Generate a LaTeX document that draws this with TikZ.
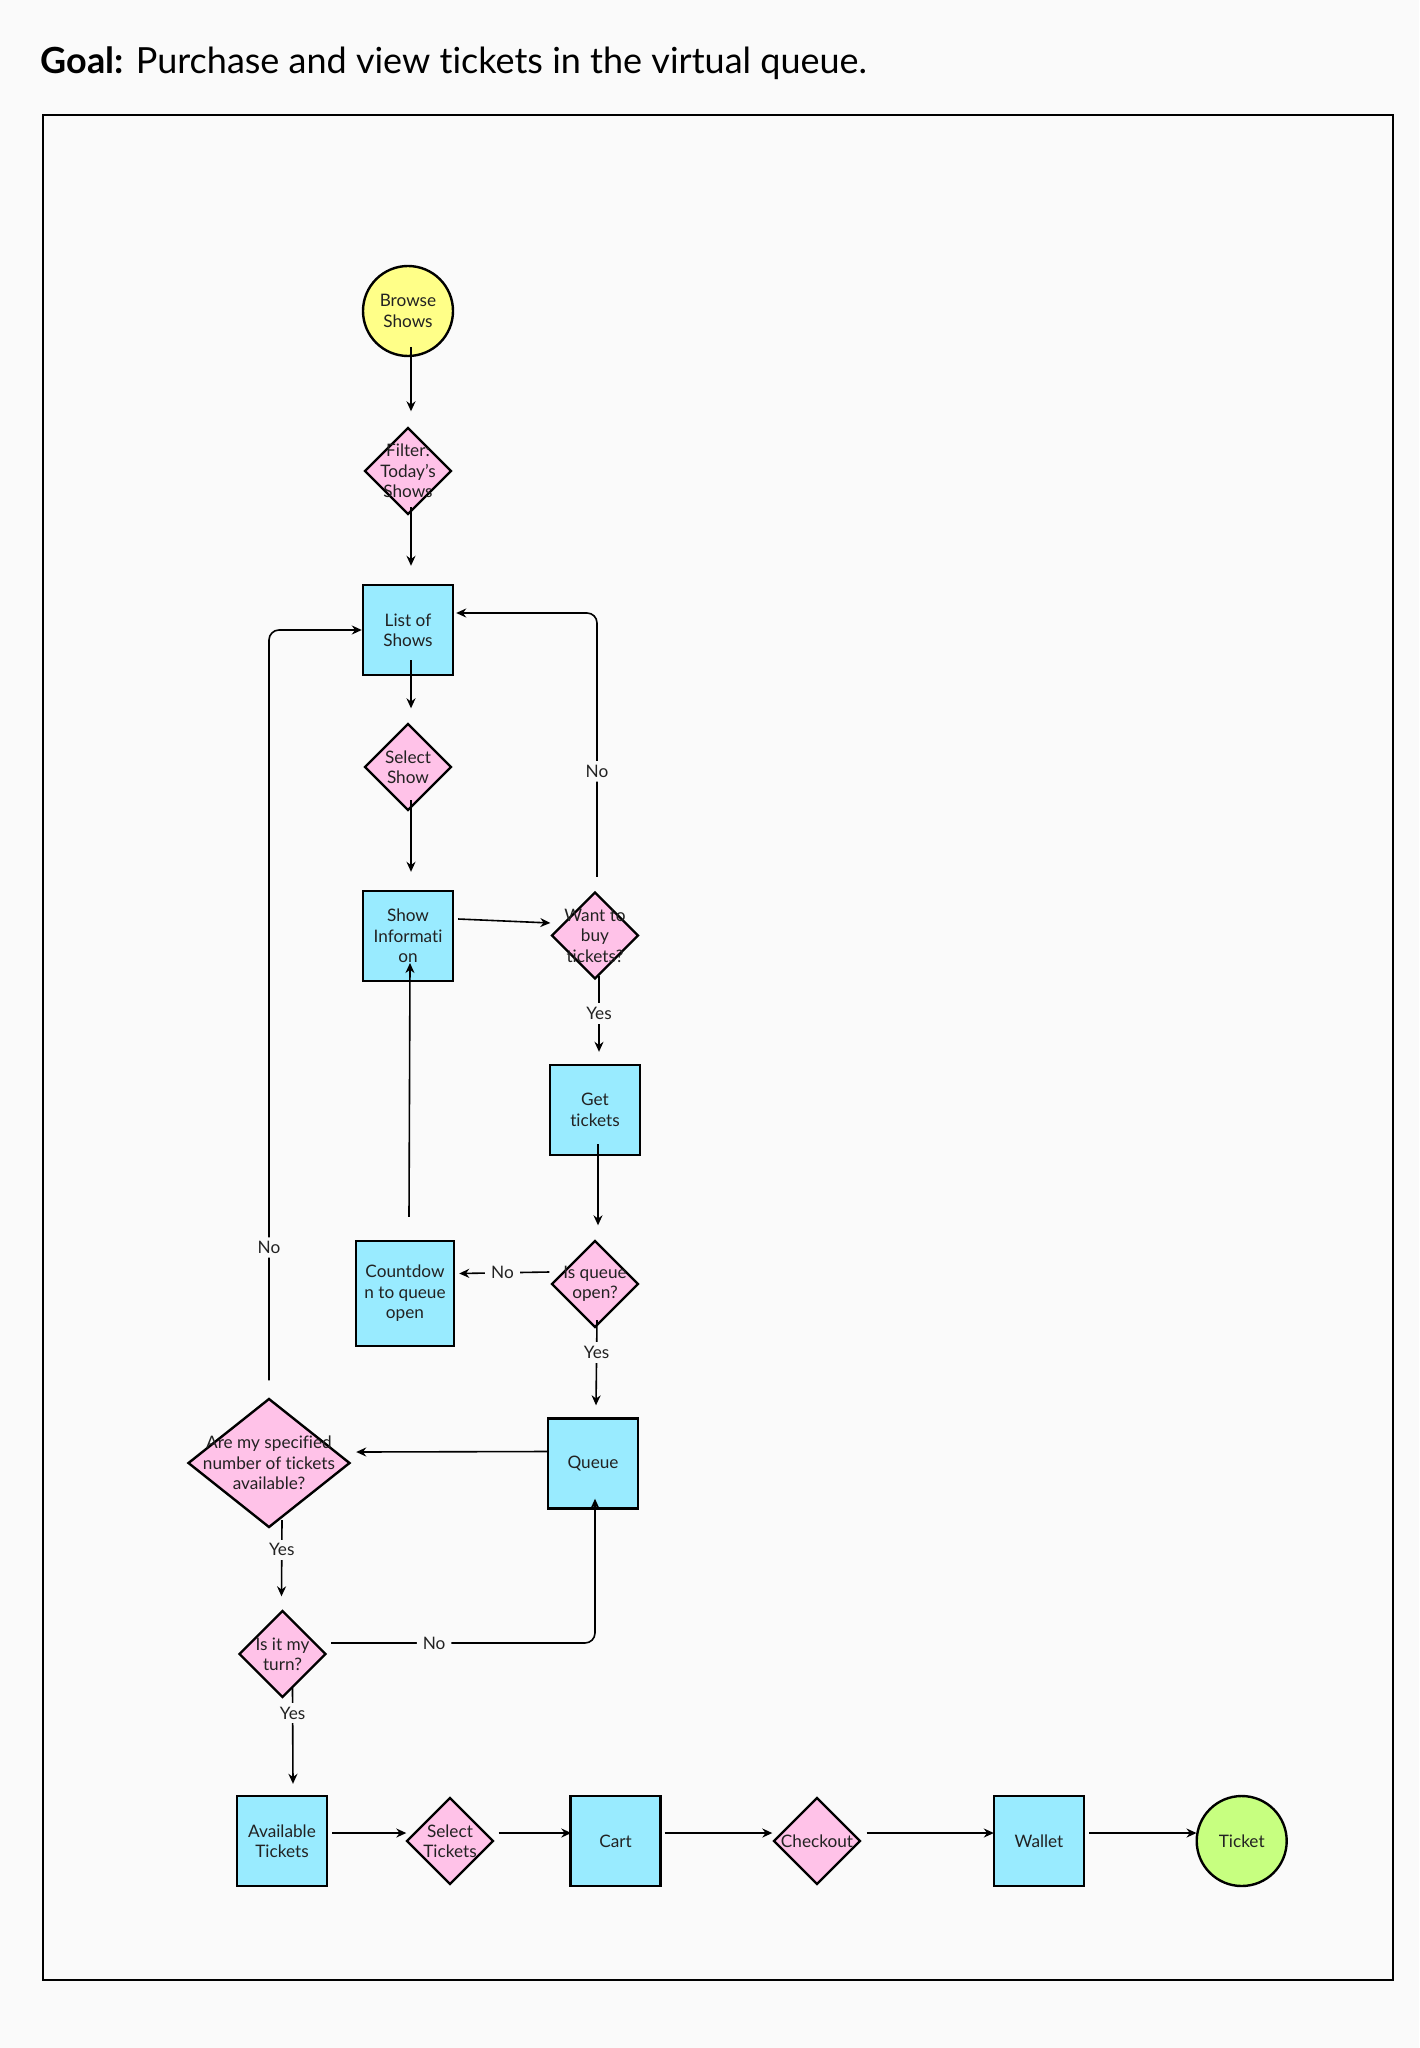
\documentclass[tikz,border=0pt]{standalone}
\usepackage{fontspec}
\setmainfont{Lato}[Ligatures=NoCommon]
\usetikzlibrary{shapes.geometric,arrows.meta,calc}
\definecolor{bgcol}{HTML}{FAFAFA}
\definecolor{procfill}{HTML}{99EBFF}
\definecolor{decfill}{HTML}{FFC2E8}
\definecolor{startfill}{HTML}{FFFF88}
\definecolor{endfill}{HTML}{C7FF80}
\definecolor{ink}{HTML}{222222}
\tikzset{
  txt/.style={font=\fontsize{8.6pt}{10.2pt}\selectfont, text=ink, align=center},
  procbox/.style={txt, rectangle, draw=black, line width=1.2pt, fill=procfill,
    minimum width=45pt, minimum height=45pt, inner sep=0pt},
  decision/.style={diamond, draw=black, line width=1.2pt, fill=decfill,
    minimum width=43.5pt, minimum height=43.5pt, inner sep=0pt},
  terminal/.style={txt, circle, draw=black, line width=1.2pt,
    minimum size=45pt, inner sep=0pt},
  arr/.style={draw=black, line width=0.8pt, -{Stealth[length=5pt,width=4.5pt]}},
  lab/.style={txt, fill=bgcol, inner xsep=3pt, inner ysep=2pt},
}
\begin{document}
\begin{tikzpicture}[x=0.5pt,y=-0.5pt]
% page and frame
\fill[bgcol] (0,0) rectangle (1419,2048);
\useasboundingbox (0,0) rectangle (1419,2048);
\draw[line width=1pt, black] (43,115) rectangle (1393,1980);
\node[anchor=base west, inner sep=0pt, font=\fontsize{18pt}{21pt}\selectfont, text=black]
  (title) at (40,74) {\textbf{Goal:} Purchase and view tickets in the virtual queue.};

% nodes
\node[terminal, fill=startfill] (browse) at (408,311) {Browse\\Shows};
\node[decision, label={[txt]center:Filter:\\Today's\\Shows}] (filter) at (408,471) {};
\node[procbox] (list) at (408,630) {List of\\Shows};
\node[decision, label={[txt]center:Select\\Show}] (select) at (408,767) {};
\node[procbox] (info) at (408,936) {Show\\Informati\\on};
\node[decision, label={[txt]center:Want to\\buy\\tickets?}] (want) at (595,935.5) {};
\node[procbox] (get) at (595,1110) {Get\\tickets};
\node[decision, label={[txt]center:Is queue\\open?}] (qopen) at (595,1284) {};
\node[procbox, minimum width=49pt, minimum height=52.5pt] (count) at (405,1293.5) {Countdow\\n to queue\\open};
\node[procbox] (queue) at (593,1463.5) {Queue};
\node[decision, minimum width=81pt, minimum height=64.5pt,
  label={[txt]center:Are my specified\\number of tickets\\available?}] (aremy) at (269,1463) {};
\node[decision, label={[txt]center:Is it my\\turn?}] (turn) at (282.5,1654) {};
\node[procbox] (avail) at (282,1841) {Available\\Tickets};
\node[decision, label={[txt]center:Select\\Tickets}] (selt) at (450,1841) {};
\node[procbox] (cart) at (615.5,1841) {Cart};
\node[decision, label={[txt]center:Checkout}] (check) at (817,1841) {};
\node[procbox] (wallet) at (1039,1841) {Wallet};
\node[terminal, fill=endfill] (ticket) at (1241.7,1841) {Ticket};

% straight connectors
\draw[arr] ($(browse.center)+(3,36)$) -- ($(filter.north)+(3,-15)$);
\draw[arr] ($(filter.center)+(3,36)$) -- ($(list.north)+(3,-18)$);
\draw[arr] ($(list.center)+(3,30)$) -- ($(select.north)+(3,-14)$);
\draw[arr] ($(select.center)+(3,33)$) -- ($(info.north)+(3,-18)$);
\draw[arr] ($(info.east)+(4,-17)$) -- ($(want.west)+(0,-12.5)$);
\draw[arr] ($(want.center)+(4,40)$) -- node[lab, pos=0.5]{Yes} ($(get.north)+(4,-12)$);
\draw[arr] ($(get.center)+(3,34)$) -- ($(qopen.north)+(3,-14)$);
\draw[arr] ($(qopen.west)+(-1,-12)$) -- node[lab, pos=0.52]{No} ($(count.east)+(4,-20)$);
\draw[arr] ($(count.north)+(4,-23)$) -- ($(info.center)+(2,27)$);
\draw[arr] ($(qopen.center)+(2,36)$) -- node[lab, pos=0.38]{Yes} ($(queue.north)+(3,-12)$);
\draw[arr] ($(queue.west)+(0,-12)$) -- ($(aremy.east)+(5,-11)$);
\draw[arr] ($(aremy.center)+(13,57)$) -- node[lab, pos=0.39]{Yes} ($(turn.north)+(-1,-13)$);
\draw[arr] ($(turn.center)+(10,34)$) -- node[lab, pos=0.26]{Yes} ($(avail.north)+(11,-11)$);

% loops back with rounded corners
\coordinate (turnout) at ($(turn.east)+(4,-11)$);
\coordinate (queuein) at ($(queue.south)+(2,-11)$);
\draw[arr, rounded corners=5pt] (turnout) -- node[lab, pos=0.39]{No} (turnout -| queuein) -- (queuein);
\coordinate (aremyout) at ($(aremy.north)+(0,-17)$);
\coordinate (listinl) at (list.west);
\draw[arr, rounded corners=5pt] (aremyout) -- node[lab, pos=0.177]{No} (aremyout |- listinl) -- (listinl);
\coordinate (wantout) at ($(want.north)+(2,-14)$);
\coordinate (listinr) at ($(list.east)+(2,-17)$);
\draw[arr, rounded corners=5pt] (wantout) -- node[lab, pos=0.4]{No} (wantout |- listinr) -- (listinr);

% bottom row
\draw[arr] ($(avail.east)+(4,-8)$) -- ($(selt.west)+(1,-8)$);
\draw[arr] ($(selt.east)+(4,-8)$) -- ($(cart.west)+(2,-8)$);
\draw[arr] ($(cart.east)+(3,-8)$) -- ($(check.west)+(0,-8)$);
\draw[arr] ($(check.east)+(5,-8)$) -- ($(wallet.west)+(1,-8)$);
\draw[arr] ($(wallet.east)+(4,-8)$) -- ($(ticket.west)+(1,-8)$);
\end{tikzpicture}
\end{document}
